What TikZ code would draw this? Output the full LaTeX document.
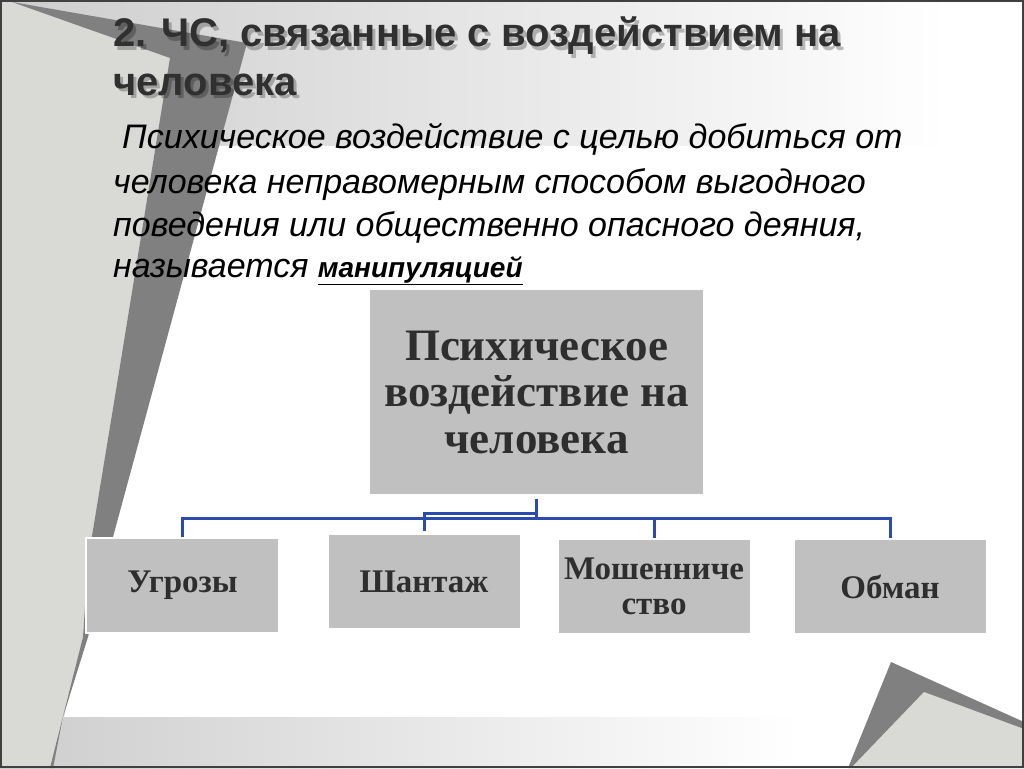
\documentclass[tikz,border=0pt]{standalone}
\usepackage{fontspec}
\setmainfont{Liberation Serif}
\newfontfamily\arialf{Liberation Sans}
\usetikzlibrary{calc}
\definecolor{titlegray}{HTML}{303030}
\definecolor{boxgray}{HTML}{C0C0C0}
\definecolor{boxtext}{HTML}{2E2E2E}
\definecolor{panelgray}{HTML}{D9D9D6}
\definecolor{bandgray}{HTML}{808080}
\definecolor{gradgray}{HTML}{CDCDCD}
\definecolor{connblue}{HTML}{2B4BAE}
\tikzset{
  titletext/.style={anchor=base west, inner sep=0pt, text=titlegray, font=\arialf\bfseries\fontsize{40}{48}\selectfont},
  titleshadow/.style={anchor=base west, inner sep=0pt, text=black, opacity=0.25, font=\arialf\bfseries\fontsize{40}{48}\selectfont},
  bodytext/.style={anchor=base west, inner sep=0pt, text=black, font=\arialf\itshape\fontsize{34}{40}\selectfont},
  mainbox/.style={fill=boxgray, draw=white, line width=2pt, inner sep=0pt, align=center, text=boxtext,
     font=\bfseries\fontsize{45}{46.5}\selectfont},
  childbox/.style={fill=boxgray, draw=white, line width=2pt, inner sep=0pt, align=center, text=boxtext,
     minimum width=193pt, minimum height=95pt, font=\bfseries\fontsize{33}{35}\selectfont},
  conn/.style={draw=connblue, line width=3pt}
}
\begin{document}
\begin{tikzpicture}[x=1pt,y=-1pt]
\useasboundingbox (0,0) rectangle (1024,768);
% background
\fill[white] (0,0) rectangle (1024,768);
\shade[left color=gradgray, right color=white] (0,0) rectangle (950,145);
\shade[left color=gradgray, right color=white] (0,717) rectangle (800,768);
\fill[panelgray] (0,0) -- (12,2) -- (170,58) -- (117,384) -- (88,560) -- (83,637) -- (52,768) -- (0,768) -- cycle;
\fill[bandgray] (12,2) -- (247,43) -- (113,537) -- (88,637) -- (63,717) -- (53,768) -- (50,768) -- (83,637) -- (88,560) -- (117,384) -- (170,58) -- cycle;
\fill[bandgray] (891,662) -- (1024,722) -- (1024,768) -- (848,768) -- cycle;
\fill[panelgray] (924,692) -- (1024,729) -- (1024,768) -- (851,768) -- cycle;
% title
\node[titleshadow] (t1s) at (116,50) {2. ЧС, связанные с воздействием на};
\node[titleshadow] (t2s) at (116,98) {человека};
\node[titletext] (t1) at (113,47) {2. ЧС, связанные с воздействием на};
\node[titletext] (t2) at (113,95) {человека};
% paragraph
\node[bodytext] (p1) at (122,148) {Психическое воздействие с целью добиться от};
\node[bodytext] (p2) at (113,193) {человека неправомерным способом выгодного};
\node[bodytext] (p3) at (113,236) {поведения или общественно опасного деяния,};
\node[bodytext] (p4) at (113,277) {называется {\bfseries\fontsize{28}{32}\selectfont\underline{манипуляцией}}};
% boxes
\node[mainbox, minimum width=335pt, minimum height=206pt] (main) at (536.5,392) {Психическое\\воздействие на\\человека};
\node[childbox] (ugr) at (182.5,585) {Угрозы};
\node[childbox] (shan) at (424,581.5) {Шантаж};
\node[childbox] (mosh) at (654,586.5) {Мошенниче\\ство};
\node[childbox] (obm) at (890,586.5) {Обман};
% connectors
\coordinate (stem) at ($(main.south)+(0,3)$);
\draw[conn] (stem) -- ++(0,19) -| (ugr.north);
\draw[conn] (stem) -- ++(0,19) -| (mosh.north);
\draw[conn] (stem) -- ++(0,19) -| (obm.north);
\draw[conn] (stem) -- ++(0,14) -| ($(shan.north)+(0,-2)$);
% frame
\draw[draw=black!75, line width=2pt] (1,1) rectangle (1023,767);
\end{tikzpicture}
\end{document}
